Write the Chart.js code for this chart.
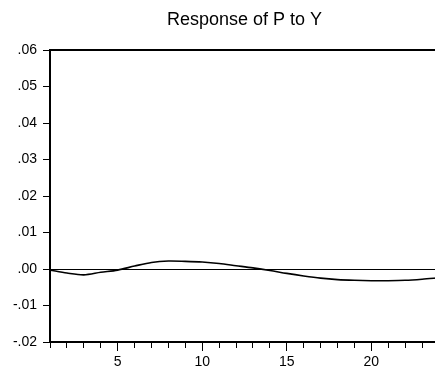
<!DOCTYPE html>
<html>
<head>
<meta charset="utf-8">
<script src="https://cdn.jsdelivr.net/npm/chart.js@4"></script>
<style>
  html, body { margin: 0; padding: 0; background: #fff; overflow: hidden; }
  #wrap { width: 435px; height: 371px; overflow: hidden; }
</style>
</head>
<body>
<div id="wrap"><canvas id="irf" width="489" height="371"></canvas></div>
<script>
var periods = [1, 2, 3, 4, 5, 6, 7, 8, 9, 10, 11, 12, 13, 14, 15, 16, 17, 18, 19, 20, 21, 22, 23, 24];
var response = [-0.0003, -0.0011, -0.0016, -0.0009, -0.0003, 0.0008, 0.0018, 0.0022, 0.0021, 0.0019,
                0.0015, 0.0009, 0.0003, -0.0004, -0.0012, -0.0019, -0.0025, -0.0029, -0.0031, -0.0032,
                -0.0032, -0.0031, -0.0028, -0.0024];
var xLabels = [5, 10, 15, 20];

var black = '#000000';
var clear = 'rgba(0,0,0,0)';
var font = 'Arial, "Liberation Sans", sans-serif';

function yLabel(v) {
  if (Math.abs(v) < 1e-9) return '.00';
  return v.toFixed(2).replace('0.', '.');
}

var ctx = document.getElementById('irf');
var chart = new Chart(ctx, {
  type: 'line',
  data: {
    datasets: [{
      label: 'Response of P to Y',
      data: periods.map(function (p, i) { return { x: p, y: response[i] }; }),
      borderColor: black,
      borderWidth: 1.6,
      pointRadius: 0,
      tension: 0.3,
      fill: false
    }]
  },
  options: {
    responsive: false,
    animation: false,
    layout: { padding: 0 },
    plugins: {
      legend: { display: false },
      tooltip: { enabled: false },
      title: {
        display: true,
        text: 'Response of P to Y',
        color: black,
        font: { family: font, size: 18, weight: 'normal' },
        padding: { top: 9, bottom: 19.4 }
      }
    },
    scales: {
      // minor ticks, one per period
      xMinor: {
        type: 'linear',
        position: 'bottom',
        weight: 0,
        min: 1,
        max: 24,
        afterFit: function (s) { s.height = 0; },
        ticks: { stepSize: 1, autoSkip: false, maxRotation: 0, callback: function () { return ''; } },
        grid: { drawOnChartArea: false, tickLength: 6, tickColor: black, tickWidth: 1 },
        border: { display: true, color: black, width: 2 }
      },
      x: {
        type: 'linear',
        position: 'bottom',
        weight: 1,
        min: 1,
        max: 24,
        afterFit: function (s) { s.height = 29; },
        ticks: {
          stepSize: 5,
          autoSkip: false,
          maxRotation: 0,
          padding: 3,
          color: black,
          font: { family: font, size: 14 },
          callback: function (v) { return xLabels.indexOf(v) >= 0 ? String(v) : ''; }
        },
        grid: {
          drawOnChartArea: false,
          tickLength: 9,
          tickColor: function (c) { return c.tick && xLabels.indexOf(c.tick.value) >= 0 ? black : clear; },
          tickWidth: 1
        },
        border: { display: true, color: black, width: 2 }
      },
      xTop: {
        type: 'linear',
        position: 'top',
        min: 1,
        max: 24,
        afterFit: function (s) { s.height = 0; },
        ticks: { display: false },
        grid: { display: false, drawTicks: false },
        border: { display: true, color: black, width: 2 }
      },
      y: {
        min: -0.02,
        max: 0.06,
        afterFit: function (s) { s.width = 50; },
        ticks: {
          stepSize: 0.01,
          padding: 6,
          color: black,
          font: { family: font, size: 14 },
          callback: yLabel
        },
        grid: {
          color: function (c) {
            return c.tick && Math.abs(c.tick.value) < 1e-9 ? black : clear;
          },
          lineWidth: 1,
          tickLength: 7,
          tickColor: black,
          tickWidth: 1
        },
        border: { display: true, color: black, width: 2 }
      },
      // empty right axis: keeps the plot edge past the window so the title sits over the plot
      yRight: {
        position: 'right',
        min: -0.02,
        max: 0.06,
        afterFit: function (s) { s.width = 50; },
        ticks: { display: false },
        grid: { display: false, drawTicks: false },
        border: { display: false }
      }
    }
  }
});
</script>
</body>
</html>
